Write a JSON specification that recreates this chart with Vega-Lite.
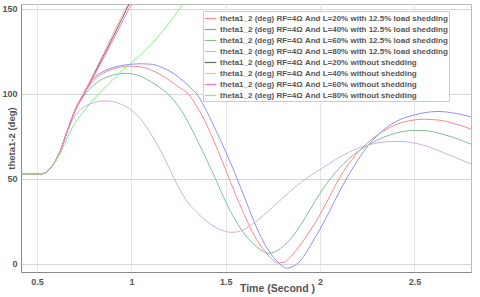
{
  "$schema": "https://vega.github.io/schema/vega-lite/v6.json",
  "width": 450,
  "height": 268,
  "autosize": {"type": "none"},
  "padding": {"left": 21, "top": 4, "right": 9, "bottom": 25},
  "background": "white",
  "config": {"font": "Liberation Sans", "view": {"stroke": "#bbbbbb"}},
  "datasets": {
    "names": [
      {"k": "A", "name": "theta1_2 (deg) RF=4Ω And L=20% with 12.5% load shedding"},
      {"k": "B", "name": "theta1_2 (deg) RF=4Ω And L=40% with 12.5% load shedding"},
      {"k": "C", "name": "theta1_2 (deg) RF=4Ω And L=60% with 12.5% load shedding"},
      {"k": "D", "name": "theta1_2 (deg) RF=4Ω And L=80% with 12.5% load shedding"},
      {"k": "E", "name": "theta1_2 (deg) RF=4Ω And L=20% without shedding"},
      {"k": "F", "name": "theta1_2 (deg) RF=4Ω And L=40% without shedding"},
      {"k": "G", "name": "theta1_2 (deg) RF=4Ω And L=60% without shedding"},
      {"k": "H", "name": "theta1_2 (deg) RF=4Ω And L=80% without shedding"}
    ],
    "pts": [
      {"k":"A","t":0.415,"v":52.8},{"k":"A","t":0.5,"v":52.8},{"k":"A","t":0.52,"v":52.9},{"k":"A","t":0.55,"v":54},{"k":"A","t":0.58,"v":57.5},{"k":"A","t":0.62,"v":65.5},{"k":"A","t":0.66,"v":78},{"k":"A","t":0.7,"v":90},{"k":"A","t":0.75,"v":100.5},{"k":"A","t":0.8,"v":107.8},{"k":"A","t":0.85,"v":112},{"k":"A","t":0.9,"v":114.5},{"k":"A","t":0.95,"v":115.8},{"k":"A","t":1.0,"v":116.2},{"k":"A","t":1.05,"v":115.8},{"k":"A","t":1.1,"v":114.1},{"k":"A","t":1.15,"v":111.5},{"k":"A","t":1.2,"v":108},{"k":"A","t":1.25,"v":104},{"k":"A","t":1.3,"v":100},{"k":"A","t":1.35,"v":92},{"k":"A","t":1.4,"v":81.5},{"k":"A","t":1.45,"v":69},{"k":"A","t":1.5,"v":55.3},{"k":"A","t":1.55,"v":41.5},{"k":"A","t":1.6,"v":28.5},{"k":"A","t":1.65,"v":17},{"k":"A","t":1.7,"v":8.5},{"k":"A","t":1.75,"v":2.5},{"k":"A","t":1.777,"v":0.6},{"k":"A","t":1.81,"v":1},{"k":"A","t":1.85,"v":5},{"k":"A","t":1.9,"v":12},{"k":"A","t":1.95,"v":20},{"k":"A","t":2.0,"v":29},{"k":"A","t":2.05,"v":39.5},{"k":"A","t":2.1,"v":50},{"k":"A","t":2.15,"v":58.5},{"k":"A","t":2.2,"v":65.5},{"k":"A","t":2.26,"v":72},{"k":"A","t":2.3,"v":75.5},{"k":"A","t":2.35,"v":79},{"k":"A","t":2.4,"v":81.8},{"k":"A","t":2.45,"v":83.6},{"k":"A","t":2.5,"v":84.6},{"k":"A","t":2.55,"v":85},{"k":"A","t":2.6,"v":84.8},{"k":"A","t":2.65,"v":84.2},{"k":"A","t":2.7,"v":82.8},{"k":"A","t":2.75,"v":81.2},{"k":"A","t":2.8,"v":79.2},
      {"k":"B","t":0.415,"v":52.8},{"k":"B","t":0.5,"v":52.8},{"k":"B","t":0.52,"v":52.9},{"k":"B","t":0.55,"v":54},{"k":"B","t":0.58,"v":57.5},{"k":"B","t":0.62,"v":65.5},{"k":"B","t":0.66,"v":78},{"k":"B","t":0.7,"v":90},{"k":"B","t":0.75,"v":101},{"k":"B","t":0.8,"v":109},{"k":"B","t":0.85,"v":113},{"k":"B","t":0.9,"v":115.3},{"k":"B","t":0.95,"v":116.6},{"k":"B","t":1.0,"v":117.3},{"k":"B","t":1.05,"v":117.6},{"k":"B","t":1.1,"v":117.4},{"k":"B","t":1.15,"v":116},{"k":"B","t":1.2,"v":113.5},{"k":"B","t":1.25,"v":109.8},{"k":"B","t":1.3,"v":105},{"k":"B","t":1.35,"v":99.3},{"k":"B","t":1.4,"v":89.5},{"k":"B","t":1.45,"v":78},{"k":"B","t":1.5,"v":66},{"k":"B","t":1.55,"v":53},{"k":"B","t":1.6,"v":39},{"k":"B","t":1.65,"v":25},{"k":"B","t":1.7,"v":13},{"k":"B","t":1.75,"v":4.5},{"k":"B","t":1.8,"v":-1.2},{"k":"B","t":1.821,"v":-2.5},{"k":"B","t":1.85,"v":-1.8},{"k":"B","t":1.9,"v":2.5},{"k":"B","t":1.95,"v":11},{"k":"B","t":2.0,"v":20.5},{"k":"B","t":2.05,"v":31},{"k":"B","t":2.1,"v":42},{"k":"B","t":2.15,"v":52},{"k":"B","t":2.2,"v":61},{"k":"B","t":2.26,"v":70.3},{"k":"B","t":2.3,"v":75},{"k":"B","t":2.35,"v":80},{"k":"B","t":2.4,"v":83.5},{"k":"B","t":2.45,"v":86},{"k":"B","t":2.5,"v":87.5},{"k":"B","t":2.55,"v":88.8},{"k":"B","t":2.63,"v":89.6},{"k":"B","t":2.7,"v":88.8},{"k":"B","t":2.75,"v":87.8},{"k":"B","t":2.8,"v":86.3},
      {"k":"C","t":0.415,"v":52.8},{"k":"C","t":0.5,"v":52.8},{"k":"C","t":0.52,"v":52.9},{"k":"C","t":0.55,"v":54},{"k":"C","t":0.58,"v":57.5},{"k":"C","t":0.62,"v":65.5},{"k":"C","t":0.66,"v":78},{"k":"C","t":0.7,"v":89.5},{"k":"C","t":0.75,"v":99},{"k":"C","t":0.8,"v":105},{"k":"C","t":0.85,"v":108.8},{"k":"C","t":0.9,"v":110.9},{"k":"C","t":0.95,"v":111.8},{"k":"C","t":0.975,"v":112},{"k":"C","t":1.0,"v":111.8},{"k":"C","t":1.05,"v":110.2},{"k":"C","t":1.1,"v":107.3},{"k":"C","t":1.15,"v":103.7},{"k":"C","t":1.2,"v":99.2},{"k":"C","t":1.25,"v":92.5},{"k":"C","t":1.3,"v":83.5},{"k":"C","t":1.35,"v":72.5},{"k":"C","t":1.4,"v":61},{"k":"C","t":1.45,"v":49},{"k":"C","t":1.5,"v":36.5},{"k":"C","t":1.55,"v":26},{"k":"C","t":1.6,"v":17.5},{"k":"C","t":1.65,"v":11.5},{"k":"C","t":1.7,"v":7.3},{"k":"C","t":1.724,"v":6.3},{"k":"C","t":1.76,"v":7.2},{"k":"C","t":1.8,"v":10},{"k":"C","t":1.85,"v":15.5},{"k":"C","t":1.9,"v":23.5},{"k":"C","t":1.95,"v":32.5},{"k":"C","t":2.0,"v":41.6},{"k":"C","t":2.05,"v":49.5},{"k":"C","t":2.1,"v":56},{"k":"C","t":2.15,"v":61.5},{"k":"C","t":2.2,"v":66},{"k":"C","t":2.26,"v":70.2},{"k":"C","t":2.3,"v":72.5},{"k":"C","t":2.35,"v":75},{"k":"C","t":2.4,"v":76.8},{"k":"C","t":2.45,"v":78},{"k":"C","t":2.5,"v":78.5},{"k":"C","t":2.55,"v":78.4},{"k":"C","t":2.6,"v":77.6},{"k":"C","t":2.65,"v":76.2},{"k":"C","t":2.7,"v":74.6},{"k":"C","t":2.75,"v":72.6},{"k":"C","t":2.8,"v":70.4},
      {"k":"D","t":0.415,"v":52.8},{"k":"D","t":0.5,"v":52.8},{"k":"D","t":0.52,"v":52.9},{"k":"D","t":0.55,"v":54},{"k":"D","t":0.58,"v":57.5},{"k":"D","t":0.62,"v":65.5},{"k":"D","t":0.66,"v":77.5},{"k":"D","t":0.69,"v":85},{"k":"D","t":0.72,"v":89.5},{"k":"D","t":0.75,"v":92.3},{"k":"D","t":0.8,"v":94.7},{"k":"D","t":0.86,"v":95.8},{"k":"D","t":0.9,"v":95.4},{"k":"D","t":0.95,"v":93.6},{"k":"D","t":1.0,"v":90.3},{"k":"D","t":1.05,"v":85},{"k":"D","t":1.1,"v":77},{"k":"D","t":1.15,"v":67.5},{"k":"D","t":1.2,"v":56.5},{"k":"D","t":1.25,"v":45},{"k":"D","t":1.3,"v":36},{"k":"D","t":1.35,"v":30},{"k":"D","t":1.4,"v":25},{"k":"D","t":1.45,"v":21.3},{"k":"D","t":1.5,"v":19.1},{"k":"D","t":1.53,"v":18.6},{"k":"D","t":1.56,"v":18.8},{"k":"D","t":1.6,"v":20.5},{"k":"D","t":1.65,"v":24},{"k":"D","t":1.7,"v":28.5},{"k":"D","t":1.75,"v":33.5},{"k":"D","t":1.8,"v":38.5},{"k":"D","t":1.85,"v":43.5},{"k":"D","t":1.9,"v":48},{"k":"D","t":1.95,"v":52},{"k":"D","t":2.0,"v":55.5},{"k":"D","t":2.05,"v":59},{"k":"D","t":2.1,"v":62.5},{"k":"D","t":2.15,"v":65.5},{"k":"D","t":2.2,"v":68},{"k":"D","t":2.26,"v":70},{"k":"D","t":2.3,"v":71},{"k":"D","t":2.35,"v":71.8},{"k":"D","t":2.42,"v":72},{"k":"D","t":2.5,"v":71},{"k":"D","t":2.55,"v":69.7},{"k":"D","t":2.6,"v":67.8},{"k":"D","t":2.65,"v":65.6},{"k":"D","t":2.7,"v":63.3},{"k":"D","t":2.75,"v":61},{"k":"D","t":2.8,"v":58.8},
      {"k":"E","t":0.415,"v":52.8},{"k":"E","t":0.5,"v":52.8},{"k":"E","t":0.52,"v":52.9},{"k":"E","t":0.55,"v":54},{"k":"E","t":0.58,"v":57.5},{"k":"E","t":0.62,"v":65.5},{"k":"E","t":0.66,"v":78},{"k":"E","t":0.7,"v":90},{"k":"E","t":0.75,"v":100.5},{"k":"E","t":0.8,"v":111},{"k":"E","t":0.85,"v":121.8},{"k":"E","t":0.9,"v":132.8},{"k":"E","t":0.95,"v":144},{"k":"E","t":1.0,"v":155.5},
      {"k":"F","t":0.415,"v":52.8},{"k":"F","t":0.5,"v":52.8},{"k":"F","t":0.52,"v":52.9},{"k":"F","t":0.55,"v":54},{"k":"F","t":0.58,"v":57.5},{"k":"F","t":0.62,"v":65.5},{"k":"F","t":0.66,"v":78},{"k":"F","t":0.7,"v":90.3},{"k":"F","t":0.75,"v":101},{"k":"F","t":0.8,"v":112},{"k":"F","t":0.85,"v":123.2},{"k":"F","t":0.9,"v":134.5},{"k":"F","t":0.95,"v":146},{"k":"F","t":1.0,"v":158},
      {"k":"G","t":0.415,"v":52.8},{"k":"G","t":0.5,"v":52.8},{"k":"G","t":0.52,"v":52.9},{"k":"G","t":0.55,"v":54},{"k":"G","t":0.58,"v":57.5},{"k":"G","t":0.62,"v":65.5},{"k":"G","t":0.66,"v":78},{"k":"G","t":0.7,"v":89.7},{"k":"G","t":0.75,"v":99.8},{"k":"G","t":0.8,"v":110},{"k":"G","t":0.85,"v":120.5},{"k":"G","t":0.9,"v":131},{"k":"G","t":0.95,"v":141.8},{"k":"G","t":1.0,"v":152.5},{"k":"G","t":1.03,"v":159},
      {"k":"H","t":0.415,"v":52.8},{"k":"H","t":0.5,"v":52.8},{"k":"H","t":0.52,"v":52.9},{"k":"H","t":0.55,"v":54},{"k":"H","t":0.58,"v":57.5},{"k":"H","t":0.62,"v":64.5},{"k":"H","t":0.66,"v":74},{"k":"H","t":0.7,"v":82.5},{"k":"H","t":0.75,"v":90},{"k":"H","t":0.8,"v":96.7},{"k":"H","t":0.85,"v":102.5},{"k":"H","t":0.9,"v":108},{"k":"H","t":0.95,"v":113.5},{"k":"H","t":1.0,"v":118.3},{"k":"H","t":1.05,"v":123},{"k":"H","t":1.1,"v":128.5},{"k":"H","t":1.15,"v":134.7},{"k":"H","t":1.2,"v":141.5},{"k":"H","t":1.25,"v":149},{"k":"H","t":1.3,"v":157}
    ]
  },
  "data": {"name": "pts"},
  "transform": [
    {"lookup": "k", "from": {"data": {"name": "names"}, "key": "k", "fields": ["name"]}}
  ],
  "mark": {"type": "line", "clip": true, "strokeWidth": 1, "interpolate": "monotone"},
  "encoding": {
    "x": {
      "field": "t", "type": "quantitative",
      "scale": {"domain": [0.415, 2.8], "nice": false, "zero": false},
      "axis": {
        "values": [0.5, 1, 1.5, 2, 2.5], "format": ".1~f", "title": "Time (Second )",
        "grid": true, "gridColor": "#e6e6e6", "ticks": false, "labelPadding": 5,
        "labelFontWeight": "bold", "labelFontSize": 9, "labelColor": "#555555", "labelFlush": false,
        "domainColor": "#888888",
        "titleFontSize": 10.5, "titleFontWeight": "bold", "titleColor": "#555555",
        "titleX": 256, "titleY": 19, "titleBaseline": "alphabetic", "titleAlign": "center"
      }
    },
    "y": {
      "field": "v", "type": "quantitative",
      "scale": {"domain": [-4.7, 152.7], "nice": false, "zero": false},
      "axis": {
        "values": [0, 50, 100, 150], "title": "theta1-2 (deg)",
        "grid": true, "gridColor": "#d6d6d6", "gridWidth": 1.2, "ticks": false, "labelPadding": 4,
        "labelFontWeight": "bold", "labelFontSize": 9, "labelColor": "#555555",
        "domainColor": "#888888",
        "titleFontSize": 9.5, "titleFontWeight": "bold", "titleColor": "#555555",
        "titleX": -10, "titleY": 134, "titleAngle": -90, "titleAlign": "center", "titleBaseline": "middle"
      }
    },
    "color": {
      "field": "name", "type": "nominal",
      "scale": {
        "domain": [
          "theta1_2 (deg) RF=4Ω And L=20% with 12.5% load shedding",
          "theta1_2 (deg) RF=4Ω And L=40% with 12.5% load shedding",
          "theta1_2 (deg) RF=4Ω And L=60% with 12.5% load shedding",
          "theta1_2 (deg) RF=4Ω And L=80% with 12.5% load shedding",
          "theta1_2 (deg) RF=4Ω And L=20% without shedding",
          "theta1_2 (deg) RF=4Ω And L=40% without shedding",
          "theta1_2 (deg) RF=4Ω And L=60% without shedding",
          "theta1_2 (deg) RF=4Ω And L=80% without shedding"
        ],
        "range": ["#ff8888", "#8f8fff", "#7fbf95", "#d0b0e2", "#666666", "#ffb899", "#ff70cc", "#80ee80"]
      },
      "legend": {
        "orient": "none", "legendX": 182, "legendY": 7, "title": null,
        "fillColor": "white", "strokeColor": "#cccccc", "padding": 1,
        "labelFontSize": 8, "labelFontWeight": "bold", "labelColor": "#555555", "labelLimit": 400, "labelOffset": 3,
        "symbolType": "stroke", "symbolSize": 135, "symbolStrokeWidth": 1.2, "rowPadding": 0
      }
    }
  }
}
